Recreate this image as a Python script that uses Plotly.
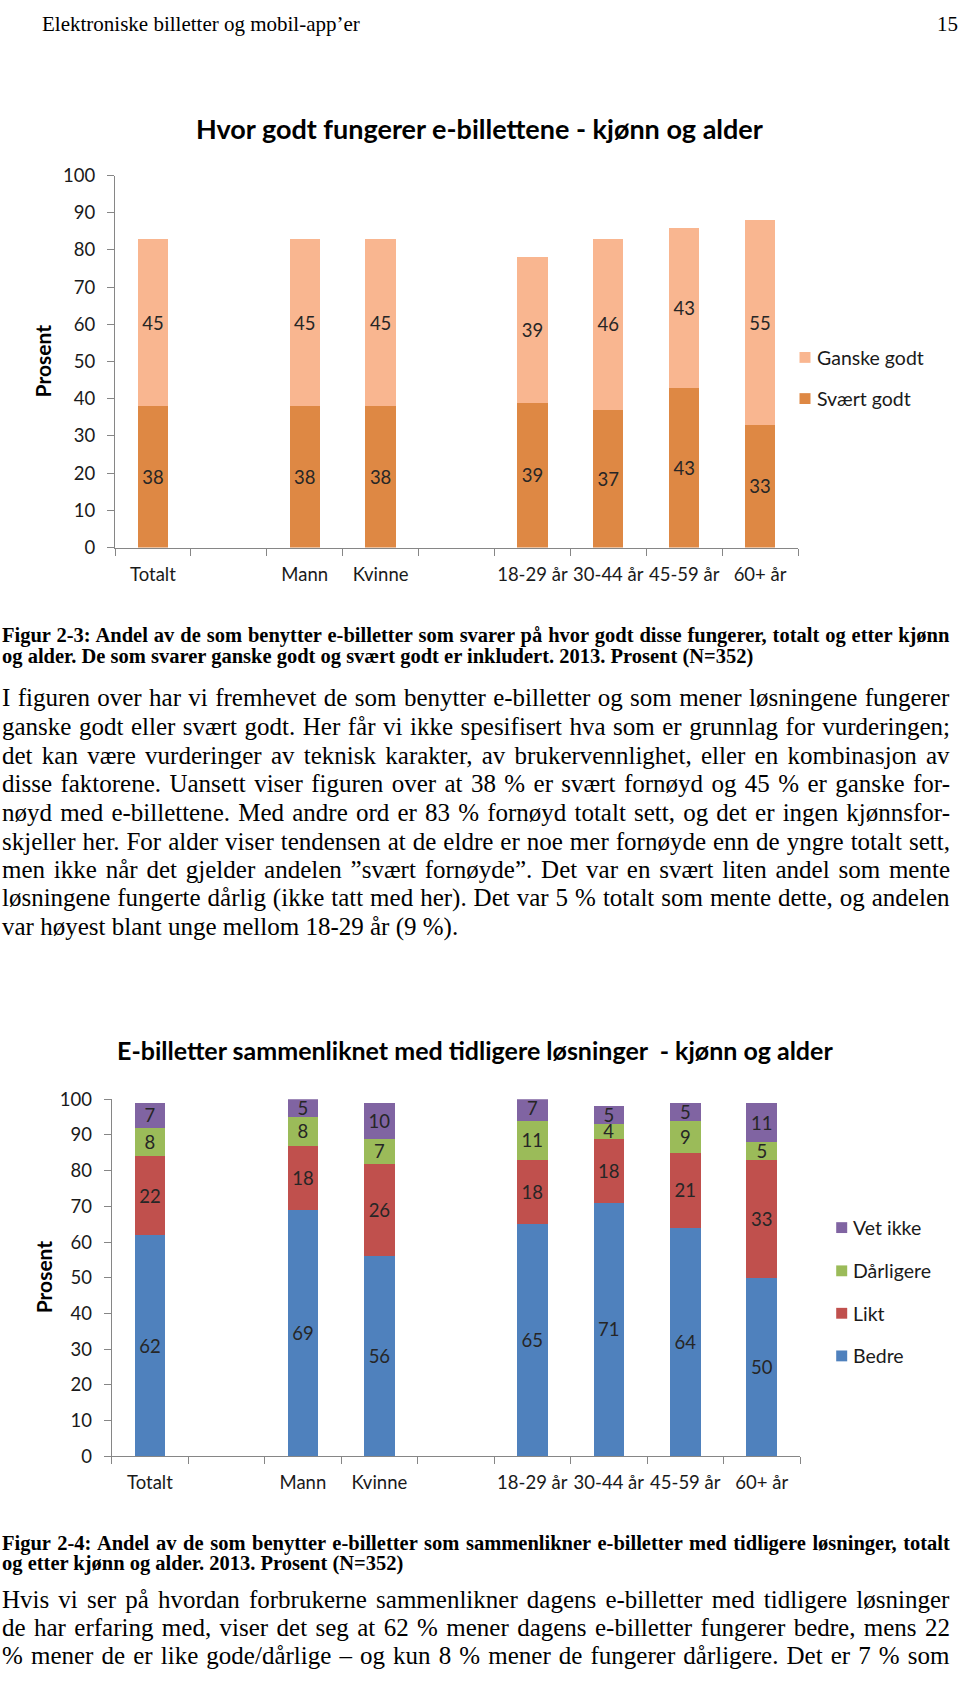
import json
import plotly.graph_objects as go

W, H = 960, 1684

# ---------------- data ----------------
categories = ["Totalt", "\u00a0", "Mann", "Kvinne", "\u00a0\u00a0",
              "18-29 år", "30-44 år", "45-59 år", "60+ år"]
groups = ["Totalt", "Mann", "Kvinne", "18-29 år", "30-44 år", "45-59 år", "60+ år"]
y_ticks = [0, 10, 20, 30, 40, 50, 60, 70, 80, 90, 100]

# Figure 2-3
svaert_godt = [38, 38, 38, 39, 37, 43, 33]
ganske_godt = [45, 45, 45, 39, 46, 43, 55]

# Figure 2-4
bedre = [62, 69, 56, 65, 71, 64, 50]
likt = [22, 18, 26, 18, 18, 21, 33]
darligere = [8, 8, 7, 11, 4, 9, 5]
vet_ikke = [7, 5, 10, 7, 5, 5, 11]

title1 = "Hvor godt fungerer e-billettene - kjønn og alder"
title2 = "E-billetter sammenliknet med tidligere løsninger \u00a0- kjønn og alder"
ytitle = "Prosent"

header = "Elektroniske billetter og mobil-app’er"
page_no = "15"

caption1 = [
    "Figur 2-3: Andel av de som benytter e-billetter som svarer på hvor godt disse fungerer, totalt og etter kjønn",
    "og alder. De som svarer ganske godt og svært godt er inkludert. 2013. Prosent (N=352)",
]
body1 = [
    "I figuren over har vi fremhevet de som benytter e-billetter og som mener løsningene fungerer",
    "ganske godt eller svært godt. Her får vi ikke spesifisert hva som er grunnlag for vurderingen;",
    "det kan være vurderinger av teknisk karakter, av brukervennlighet, eller en kombinasjon av",
    "disse faktorene. Uansett viser figuren over at 38 % er svært fornøyd og 45 % er ganske for-",
    "nøyd med e-billettene. Med andre ord er 83 % fornøyd totalt sett, og det er ingen kjønnsfor-",
    "skjeller her. For alder viser tendensen at de eldre er noe mer fornøyde enn de yngre totalt sett,",
    "men ikke når det gjelder andelen ”svært fornøyde”. Det var en svært liten andel som mente",
    "løsningene fungerte dårlig (ikke tatt med her). Det var 5 % totalt som mente dette, og andelen",
    "var høyest blant unge mellom 18-29 år (9 %).",
]
caption2 = [
    "Figur 2-4: Andel av de som benytter e-billetter som sammenlikner e-billetter med tidligere løsninger, totalt",
    "og etter kjønn og alder. 2013. Prosent (N=352)",
]
body2 = [
    "Hvis vi ser på hvordan forbrukerne sammenlikner dagens e-billetter med tidligere løsninger",
    "de har erfaring med, viser det seg at 62 % mener dagens e-billetter fungerer bedre, mens 22",
    "% mener de er like gode/dårlige – og kun 8 % mener de fungerer dårligere. Det er 7 % som",
]

# ---------------- style ----------------
SANS = "Lato, sans-serif"
SERIF = "Liberation Serif, serif"
AXIS_COL = "#868686"
LABEL_COL = "#262626"
C_SVAERT = "#DE8844"
C_GANSKE = "#F9B690"
C_BEDRE = "#4F81BD"
C_LIKT = "#C0504D"
C_DARL = "#9BBB59"
C_VET = "#8064A2"


def px_x(px):
    return px / W


def px_y(py):
    return 1 - py / H


fig = go.Figure()


def add_bar(xs, ys, name, color, xa, ya):
    fig.add_trace(go.Bar(
        x=xs, y=ys, name=name, marker=dict(color=color, line=dict(width=0)),
        xaxis=xa, yaxis=ya, width=0.4,
        text=ys, texttemplate="%{text}", textposition="inside",
        insidetextanchor="middle", textangle=0, constraintext="none",
        textfont=dict(family=SANS, size=18.5, color=LABEL_COL),
        showlegend=False, hoverinfo="skip",
    ))


add_bar(groups, svaert_godt, "Svært godt", C_SVAERT, "x", "y")
add_bar(groups, ganske_godt, "Ganske godt", C_GANSKE, "x", "y")

add_bar(groups, bedre, "Bedre", C_BEDRE, "x2", "y2")
add_bar(groups, likt, "Likt", C_LIKT, "x2", "y2")
add_bar(groups, darligere, "Dårligere", C_DARL, "x2", "y2")
add_bar(groups, vet_ikke, "Vet ikke", C_VET, "x2", "y2")

xaxis_common = dict(
    type="category", categoryorder="array", categoryarray=categories,
    range=[-0.5, len(categories) - 0.5], tickson="boundaries",
    ticks="outside", ticklen=7, tickcolor=AXIS_COL, tickwidth=1,
    showline=True, linecolor=AXIS_COL, linewidth=1, showgrid=False,
    tickangle=0,
    tickfont=dict(family=SANS, size=18.5, color="#1a1a1a"),
    ticklabelstandoff=10, fixedrange=True,
)
yaxis_common = dict(
    range=[0, 100], tickvals=y_ticks, ticks="outside", ticklen=7,
    tickcolor=AXIS_COL, tickwidth=1, showline=True, linecolor=AXIS_COL,
    linewidth=1, showgrid=False, zeroline=False,
    tickfont=dict(family=SANS, size=18.5, color="#1a1a1a"),
    ticklabelstandoff=8, fixedrange=True,
)

fig.update_layout(
    width=W, height=H, autosize=False,
    margin=dict(l=0, r=0, t=0, b=0, pad=0),
    paper_bgcolor="white", plot_bgcolor="white",
    barmode="stack", showlegend=False,
    font=dict(family=SANS, color="#1a1a1a"),
    xaxis=dict(xaxis_common, domain=[px_x(115), px_x(798)], anchor="y"),
    yaxis=dict(yaxis_common, domain=[px_y(542.7), px_y(165.7)], anchor="x"),
    xaxis2=dict(xaxis_common, domain=[px_x(111.7), px_x(800)], anchor="y2"),
    yaxis2=dict(yaxis_common, domain=[px_y(1463.3), px_y(1101.7)], anchor="x2"),
)

annotations = []
shapes = []


def text_at(x, y, s, size, family=SANS, bold=False, xanchor="left",
            angle=0, color="#000000"):
    annotations.append(dict(
        x=px_x(x), y=px_y(y), xref="paper", yref="paper",
        text=("<b>%s</b>" % s) if bold else s, showarrow=False,
        xanchor=xanchor, yanchor="middle", textangle=angle, align="left",
        font=dict(family=family, size=size, color=color), borderpad=0,
    ))


# page header
text_at(41, 12, header, 21, family=SERIF)
text_at(959, 12, page_no, 21, family=SERIF, xanchor="right")

# chart titles
text_at(479.5, 118, title1, 27, bold=True, xanchor="center")
text_at(475, 1052, title2, 25, bold=True, xanchor="center")
text_at(42, 354, ytitle, 21, bold=True, xanchor="center", angle=-90)
text_at(43, 1282, ytitle, 21, bold=True, xanchor="center", angle=-90)

# legends (top to bottom = reversed stacking order)
legend1 = [("Ganske godt", C_GANSKE, 350), ("Svært godt", C_SVAERT, 391.7)]
for name, col, cy in legend1:
    shapes.append(dict(type="rect", xref="paper", yref="paper",
                       x0=px_x(799.5), x1=px_x(810.5),
                       y0=px_y(cy + 5.5), y1=px_y(cy - 5.5),
                       fillcolor=col, line=dict(width=0)))
    text_at(816, cy, name, 19.5, color="#1a1a1a")

legend2 = [("Vet ikke", C_VET, 1231.7), ("Dårligere", C_DARL, 1275.5),
           ("Likt", C_LIKT, 1318.5), ("Bedre", C_BEDRE, 1361.7)]
for name, col, cy in legend2:
    shapes.append(dict(type="rect", xref="paper", yref="paper",
                       x0=px_x(836.2), x1=px_x(847.2),
                       y0=px_y(cy + 5.5), y1=px_y(cy - 5.5),
                       fillcolor=col, line=dict(width=0)))
    text_at(851.5, cy, name, 19.5, color="#1a1a1a")

# captions and body text
for i, line in enumerate(caption1):
    text_at(1, 631.7 + 21.6 * i, line, 20.5, family=SERIF, bold=True)
for i, line in enumerate(body1):
    text_at(1, 695 + 29.0 * i, line, 25, family=SERIF)
for i, line in enumerate(caption2):
    text_at(1, 1551.7 + 20.5 * i, line, 20.5, family=SERIF, bold=True)
for i, line in enumerate(body2):
    text_at(1, 1608.3 + 28.4 * i, line, 25, family=SERIF)

fig.update_layout(annotations=annotations, shapes=shapes)

# lines that are justified to the right margin in the original page
justify = [caption1[0], caption2[0]] + body1[:-1] + body2
post = """
(function(){
  try {
    var targets = %s;
    var gd = document.getElementById('{plot_id}');
    var nodes = gd.querySelectorAll('.annotation-text');
    nodes.forEach(function(t){
      var s = (t.textContent || '').trim();
      if (targets.indexOf(s) < 0) return;
      var n = (s.match(/ /g) || []).length;
      if (!n) return;
      var r = t.getBoundingClientRect();
      var extra = (958 - r.right) / n;
      t.style.wordSpacing = extra.toFixed(3) + 'px';
    });
  } catch (e) {}
})();
""" % json.dumps(justify, ensure_ascii=False)

fig.write_html("out.html", include_plotlyjs=True, full_html=True,
               config={"displayModeBar": False, "staticPlot": True},
               post_script=post)
